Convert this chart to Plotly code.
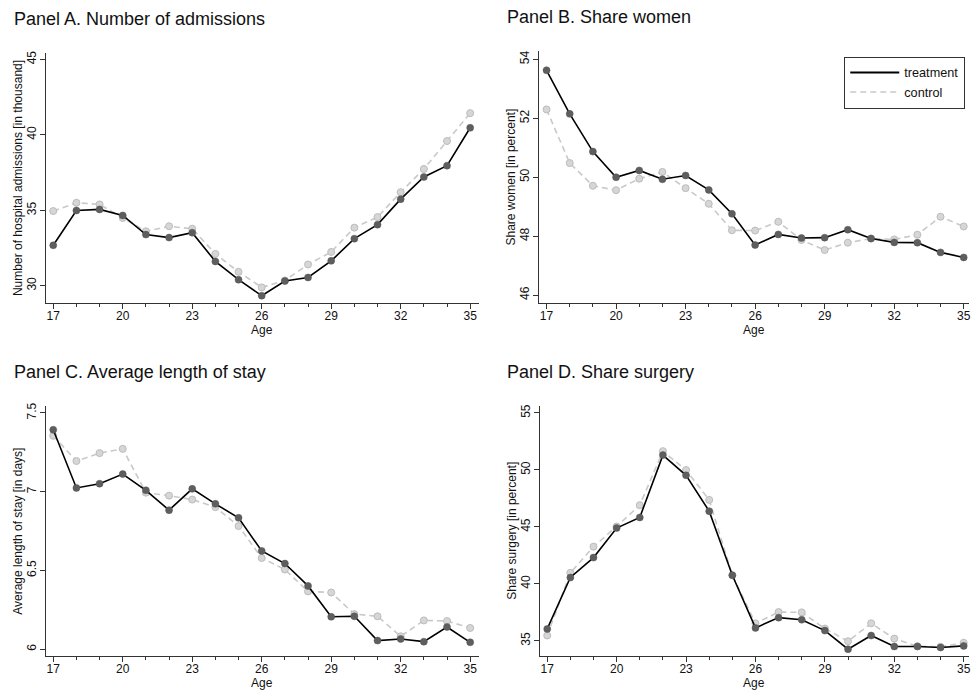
import plotly.graph_objects as go

ages = list(range(17, 36))

adm_treat = [32.68, 34.99, 35.06, 34.66, 33.39, 33.19, 33.52, 31.61, 30.40, 29.34,
             30.31, 30.55, 31.65, 33.12, 34.05, 35.74, 37.21, 37.96, 40.47]
adm_ctrl = [34.95, 35.50, 35.39, 34.49, 33.61, 33.94, 33.78, 32.11, 30.92, 29.89,
            30.35, 31.41, 32.24, 33.85, 34.55, 36.20, 37.74, 39.59, 41.44]

women_treat = [53.63, 52.15, 50.87, 50.00, 50.23, 49.93, 50.06, 49.57, 48.76, 47.70,
               48.06, 47.94, 47.95, 48.22, 47.92, 47.79, 47.78, 47.45, 47.28]
women_ctrl = [52.30, 50.48, 49.71, 49.56, 49.95, 50.18, 49.63, 49.10, 48.20, 48.19,
              48.49, 47.87, 47.53, 47.78, 47.92, 47.89, 48.05, 48.66, 48.33]

stay_treat = [7.393, 7.024, 7.051, 7.112, 7.009, 6.883, 7.018, 6.923, 6.834, 6.624,
              6.544, 6.402, 6.206, 6.209, 6.055, 6.065, 6.048, 6.141, 6.044]
stay_ctrl = [7.355, 7.195, 7.245, 7.272, 6.994, 6.975, 6.950, 6.902, 6.782, 6.579,
             6.506, 6.367, 6.360, 6.223, 6.209, 6.082, 6.183, 6.179, 6.135]

surg_treat = [36.05, 40.56, 42.31, 44.90, 45.83, 51.30, 49.53, 46.38, 40.76, 36.14,
              37.04, 36.86, 35.90, 34.27, 35.47, 34.51, 34.51, 34.42, 34.56]
surg_ctrl = [35.47, 40.97, 43.27, 45.04, 46.91, 51.65, 49.99, 47.37, 40.76, 36.54,
             37.53, 37.50, 36.08, 34.97, 36.54, 35.20, 34.53, 34.48, 34.83]

panel_titles = ["Panel A. Number of admissions", "Panel B. Share women",
                "Panel C. Average length of stay", "Panel D. Share surgery"]
y_titles = ["Number of hospital admissions [in thousand]", "Share women [in percent]",
            "Average length of stay [in days]", "Share surgery [in percent]"]
y_ticks = [[30, 35, 40, 45], [46, 48, 50, 52, 54], [6, 6.5, 7, 7.5], [35, 40, 45, 50, 55]]
y_ticktext = [["30", "35", "40", "45"], ["46", "48", "50", "52", "54"],
              ["6", "6.5", "7", "7.5"], ["35", "40", "45", "50", "55"]]
x_title = "Age"
series_names = ["treatment", "control"]

W, H = 971, 691
FONT = "Liberation Sans, Arial, Helvetica, sans-serif"
AX = "#333333"
TXT = "#111111"

# panel geometry in pixels: (left, right, top, bottom), x-range, y-range
panels = [
    dict(px=(45.7, 479.5, 50.0, 301.7), xr=[16.67, 35.36], yr=[28.83, 45.44]),
    dict(px=(540.0, 971.0, 48.3, 301.7), xr=[16.67, 35.228], yr=[45.72, 54.28]),
    dict(px=(45.7, 479.5, 404.3, 656.0), xr=[16.67, 35.36], yr=[5.956, 7.547]),
    dict(px=(540.7, 971.0, 404.3, 656.0), xr=[16.67, 35.228], yr=[33.66, 55.65]),
]
data = [(adm_treat, adm_ctrl), (women_treat, women_ctrl),
        (stay_treat, stay_ctrl), (surg_treat, surg_ctrl)]

fig = go.Figure()
layout = dict(width=W, height=H, margin=dict(l=0, r=0, t=0, b=0),
              paper_bgcolor="white", plot_bgcolor="white",
              font=dict(family=FONT, size=12, color=TXT),
              showlegend=True, hovermode=False)
annotations = []

for i, (p, (tr, ct)) in enumerate(zip(panels, data)):
    l, r, t, b = p["px"]
    n = "" if i == 0 else str(i + 1)
    xa, ya = "x" + n, "y" + n
    fig.add_trace(go.Scatter(
        x=ages, y=ct, mode="lines+markers", xaxis=xa, yaxis=ya, showlegend=False,
        line=dict(color="#c9c9c9", width=1.6, dash="6px,4px"),
        marker=dict(size=7, color="#d6d6d6", line=dict(color="#bcbcbc", width=1))))
    fig.add_trace(go.Scatter(
        x=ages, y=tr, mode="lines+markers", xaxis=xa, yaxis=ya, showlegend=False,
        line=dict(color="#000000", width=1.6),
        marker=dict(size=7, color="#5e5e5e", line=dict(color="#555555", width=0.5))))
    layout["xaxis" + n] = dict(
        domain=[l / W, r / W], range=p["xr"], anchor=ya,
        showline=True, linecolor=AX, linewidth=1, showgrid=False, zeroline=False,
        tickmode="linear", tick0=17, dtick=3, ticks="outside", ticklen=5,
        tickcolor=AX, tickwidth=1, tickfont=dict(size=12, color=TXT),
        ticklabeloverflow="allow", ticklabelstandoff=-4,
        minor=dict(ticks="outside", ticklen=3, tickcolor=AX, tickwidth=1,
                   tick0=17, dtick=1, showgrid=False),
        fixedrange=True)
    layout["yaxis" + n] = dict(
        domain=[1 - b / H, 1 - t / H], range=p["yr"], anchor=xa,
        showline=True, linecolor=AX, linewidth=1, showgrid=False, zeroline=False,
        tickmode="array", tickvals=y_ticks[i], ticktext=y_ticktext[i],
        ticks="outside", ticklen=5, tickcolor=AX, tickwidth=1, tickangle=-90,
        ticklabeloverflow="allow", ticklabelstandoff=-1,
        tickfont=dict(size=12, color=TXT), fixedrange=True)
    # panel title
    annotations.append(dict(
        text=panel_titles[i], xref="paper", yref="paper",
        x=(12 if l < 100 else 506.5) / W, y=1 - (t - 34) / H,
        xanchor="left", yanchor="middle", showarrow=False,
        font=dict(size=18, color=TXT, family=FONT)))
    # y-axis title
    annotations.append(dict(
        text=y_titles[i], xref="paper", yref="paper",
        x=(l - 27.7) / W, y=1 - ((t + b) / 2) / H, textangle=-90,
        xanchor="center", yanchor="middle", showarrow=False,
        font=dict(size=12, color=TXT, family=FONT)))
    # x-axis title
    annotations.append(dict(
        text=x_title, xref="paper", yref="paper",
        x=(l + (min(r, 974) - l) / 2) / W, y=1 - (b + 26.5) / H,
        xanchor="center", yanchor="middle", showarrow=False,
        font=dict(size=12, color=TXT, family=FONT)))

# legend-only entries (line samples as in the reference)
fig.add_trace(go.Scatter(x=[None], y=[None], mode="lines", name=series_names[0],
                         xaxis="x2", yaxis="y2",
                         line=dict(color="#000000", width=1.8)))
fig.add_trace(go.Scatter(x=[None], y=[None], mode="lines", name=series_names[1],
                         xaxis="x2", yaxis="y2",
                         line=dict(color="#c9c9c9", width=1.6, dash="6px,4px")))

layout["legend"] = dict(x=846 / W, y=1 - 54 / H, xanchor="left", yanchor="top",
                        bgcolor="white", bordercolor="#333333", borderwidth=1,
                        font=dict(size=12.7, color=TXT, family=FONT),
                        itemwidth=49, tracegroupgap=0)
layout["annotations"] = annotations
fig.update_layout(**layout)

fig.write_html("out.html")
